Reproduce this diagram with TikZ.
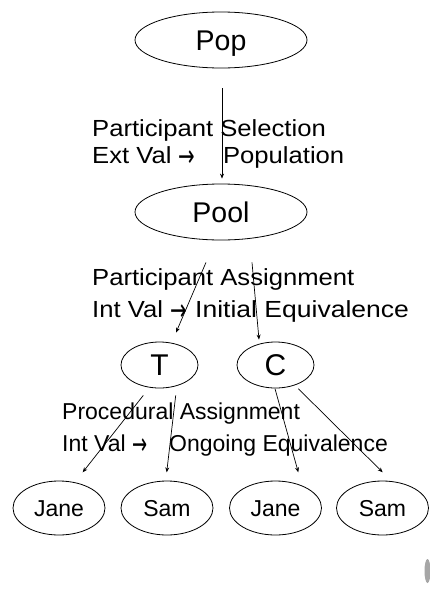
\documentclass[tikz,border=0pt]{standalone}
\usepackage{fontspec}
\setmainfont{Liberation Sans}
\newfontfamily\arrowfont{DejaVu Sans}
\usetikzlibrary{shapes.geometric,arrows.meta,calc}
\newcommand{\rarr}{\raisebox{-3pt}{\scalebox{0.6}[1]{\arrowfont\fontsize{30}{32}\selectfont →}}}
\newcommand{\wide}[1]{\scalebox{1.1}[1]{#1}}
\begin{document}
\begin{tikzpicture}[x=1pt,y=-1pt,
  oval/.style={ellipse,draw,line width=0.8pt,inner sep=0pt,text depth=0pt},
  big/.style={oval,minimum width=172pt,minimum height=56pt,text height=20.5pt,font=\fontsize{28.5}{32}\selectfont},
  mid/.style={oval,minimum width=77pt,minimum height=46pt,text height=21.6pt,font=\fontsize{30}{34}\selectfont},
  leaf/.style={oval,minimum width=92pt,minimum height=54pt,text height=16.6pt,font=\fontsize{23}{27}\selectfont},
  lbl/.style={anchor=base west,inner sep=0pt,font=\fontsize{23.3}{28}\selectfont},
  lbls/.style={anchor=base west,inner sep=0pt,font=\fontsize{23}{27}\selectfont},
  arr/.style={-{Stealth[length=5pt,width=4pt]},line width=0.7pt}]
\useasboundingbox (0,0) rectangle (429,592);
\fill[white] (0,0) rectangle (429,592);
% nodes
\node[big] (pop) at (221,40) {Pop};
\node[big] (pool) at (221,212) {Pool};
\node[mid] (t) at (159.5,365) {T};
\node[mid] (c) at (275.5,365) {C};
\node[leaf] (jane1) at (59,508) {Jane};
\node[leaf] (sam1) at (167,508) {Sam};
\node[leaf] (jane2) at (275.5,508) {Jane};
\node[leaf] (sam2) at (382.5,508) {Sam};
% labels
\node[lbl] (sel1) at (92,136) {\wide{Participant Selection}};
\node[lbl] (sel2) at (92,163.5) {\wide{\makebox[119pt][l]{Ext Val \rarr}Population}};
\node[lbl] (asg1) at (92,285.7) {\wide{Participant Assignment}};
\node[lbl] (asg2) at (92,317.5) {\wide{\makebox[93.6pt][l]{Int Val \rarr}\scalebox{1.035}[1]{Initial Equivalence}}};
\node[lbls] (pro1) at (62,419) {Procedural Assignment};
\node[lbls] (pro2) at (62,451) {\makebox[107pt][l]{Int Val \rarr}Ongoing Equivalence};
% connectors
\draw[arr] ($(pop.south)+(1,20)$) -- ($(pool.north)+(1,-5)$);
\draw[arr] ($(pool.south)+(-15,22)$) -- ($(t.north)+(16.5,-9)$);
\draw[arr] ($(pool.south)+(31,22)$) -- ($(c.north)+(-16.5,-2)$);
\draw[arr] ($(t.south)+(-16.2,7)$) -- ($(jane1.north)+(23.7,-8.3)$);
\draw[arr] ($(t.south)+(16.2,7)$) -- ($(sam1.north)+(-0.3,-8.3)$);
\draw[arr] ($(c.south)+(-0.5,0.3)$) -- ($(jane2.north)+(22.8,-8.3)$);
\draw[arr] ($(c.south)+(22.8,0.3)$) -- ($(sam2.north)+(0.2,-8.3)$);
% partial image at the lower right edge
\fill[gray!70] (427.5,571) ellipse [x radius=3, y radius=12];
\end{tikzpicture}
\end{document}
